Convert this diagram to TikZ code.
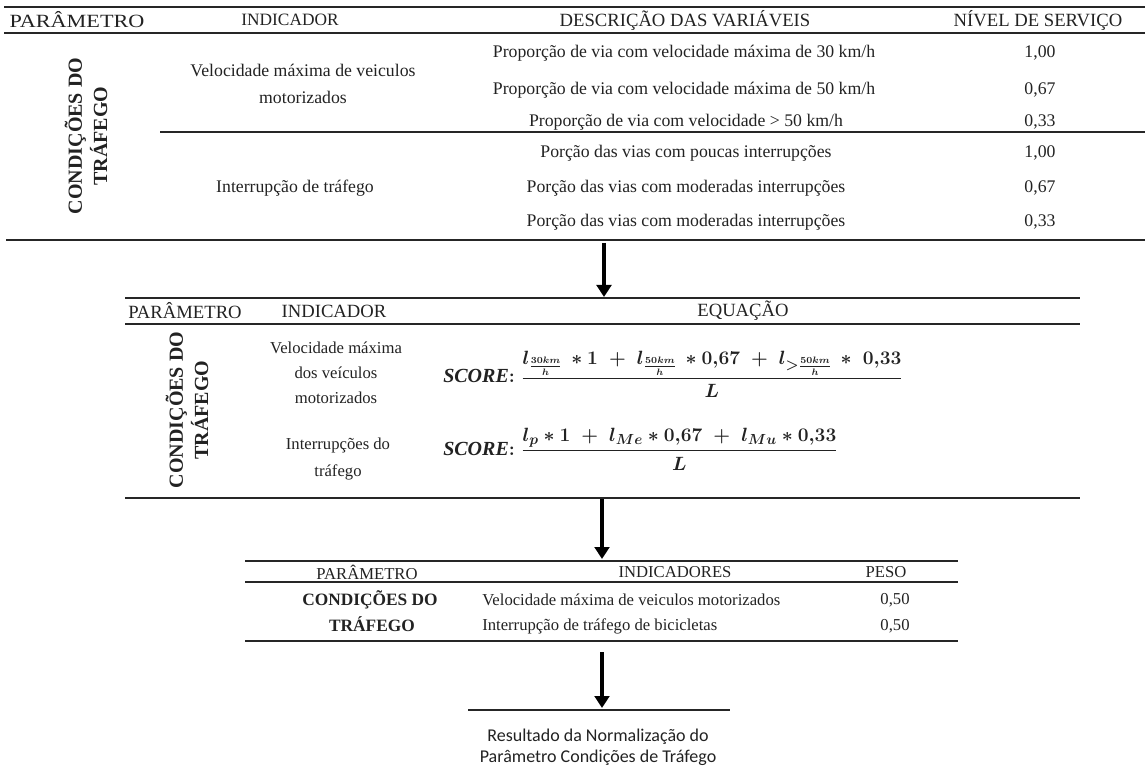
\documentclass[tikz,border=0pt]{standalone}
\usepackage{fontspec}
\usepackage{amsmath}
\setmainfont{Liberation Serif}
\newfontfamily\calfont{Carlito}
\usetikzlibrary{arrows.meta}
\definecolor{ink}{HTML}{222222}
\tikzset{
  thickrule/.style={line width=1.4pt, draw=black!85},
  thinrule/.style={line width=0.8pt, draw=black!85},
  tx/.style={inner sep=0pt, text=ink, font=\fontsize{13.3}{16}\selectfont},
  txb/.style={inner sep=0pt, text=ink, font=\fontsize{12.5}{15}\selectfont},
  hd/.style={inner sep=0pt, text=ink, font=\fontsize{14}{16}\selectfont},
  rot/.style={inner sep=0pt, rotate=90, align=center, text=ink, font=\bfseries\fontsize{15}{19}\selectfont},
  bd/.style={inner sep=0pt, text=ink, font=\bfseries\fontsize{13}{15}\selectfont},
  fm/.style={inner sep=0pt, anchor=west, text=ink, font=\boldmath\fontsize{15}{18}\selectfont},
  arr/.style={line width=3pt, draw=black, -{Triangle[width=11pt,length=9pt]}},
  cal/.style={inner sep=0pt, text=ink, font=\calfont\fontsize{13.5}{16}\selectfont},
}
\begin{document}
\begin{tikzpicture}[x=0.75pt,y=-0.75pt]
\useasboundingbox (0,0) rectangle (1145,773);
% ---------------- Table 1 ----------------
\coordinate (t1tl) at (4,7);   \coordinate (t1tr) at (1145,7);
\coordinate (t1hl) at (4,33);  \coordinate (t1hr) at (1145,33);
\coordinate (t1ml) at (160,132); \coordinate (t1mr) at (1145,132);
\coordinate (t1bl) at (6,240); \coordinate (t1br) at (1145,240);
\draw[thickrule] (t1tl) -- (t1tr);
\draw[thickrule] (t1hl) -- (t1hr);
\draw[thinrule] (t1ml) -- (t1mr);
\draw[thickrule] (t1bl) -- (t1br);
\node[hd] (h1a) at (77,20) {\scalebox{1.19}[1]{PARÂMETRO}};
\node[hd, font=\fontsize{13}{15}\selectfont] (h1b) at (290,20) {INDICADOR};
\node[hd] (h1c) at (685,20) {DESCRIÇÃO DAS VARIÁVEIS};
\node[hd] (h1d) at (1038,20) {NÍVEL DE SERVIÇO};
\node[rot] (r1) at (86,136) {CONDIÇÕES DO\\TRÁFEGO};
\node[tx] (i1a) at (303,70) {Velocidade máxima de veiculos};
\node[tx] (i1b) at (303,97) {motorizados};
\node[tx] (i1c) at (295,188) {Interrupção de tráfego};
\node[tx] (d1) at (684,53) {Proporção de via com velocidade máxima de 30 km/h};
\node[tx] (d2) at (684,90) {Proporção de via com velocidade máxima de 50 km/h};
\node[tx] (d3) at (686,122) {Proporção de via com velocidade > 50 km/h};
\node[tx] (d4) at (686,153) {Porção das vias com poucas interrupções};
\node[tx] (d5) at (686,188) {Porção das vias com moderadas interrupções};
\node[tx] (d6) at (686,222) {Porção das vias com moderadas interrupções};
\node[tx] (v1) at (1040,53) {1,00};
\node[tx] (v2) at (1040,90) {0,67};
\node[tx] (v3) at (1040,122) {0,33};
\node[tx] (v4) at (1040,153) {1,00};
\node[tx] (v5) at (1040,188) {0,67};
\node[tx] (v6) at (1040,222) {0,33};
% arrow 1
\coordinate (a1s) at (604,243);
\coordinate (a1e) at (604,297);
\draw[arr] (a1s) -- (a1e);
% ---------------- Table 2 ----------------
\coordinate (t2tl) at (125,298); \coordinate (t2tr) at (1080,298);
\coordinate (t2hl) at (125,324); \coordinate (t2hr) at (1080,324);
\coordinate (t2bl) at (125,498); \coordinate (t2br) at (1080,498);
\draw[thickrule] (t2tl) -- (t2tr);
\draw[thickrule] (t2hl) -- (t2hr);
\draw[thickrule] (t2bl) -- (t2br);
\node[hd] (h2a) at (185,311) {PARÂMETRO};
\node[hd] (h2b) at (334,311) {INDICADOR};
\node[hd] (h2c) at (743,311) {EQUAÇÃO};
\node[rot] (r2) at (187,410) {CONDIÇÕES DO\\TRÁFEGO};
\node[txb] (i2a) at (336,348) {Velocidade máxima};
\node[txb] (i2b) at (336,373) {dos veículos};
\node[txb] (i2c) at (336,398) {motorizados};
\node[txb] (i2d) at (338,445) {Interrupções do};
\node[txb] (i2e) at (338,472) {tráfego};
\node[fm] (f1) at (443,374) {$\mathit{SCORE}\mathbf{:}\;\dfrac{l_{\frac{30km}{h}}\, \ast 1 \;+\; l_{\frac{50km}{h}}\, \ast 0{,}67 \;+\; l_{>\frac{50km}{h}}\, \ast\; 0{,}33}{L}$};
\node[fm] (f2) at (443,449) {$\mathit{SCORE}\mathbf{:}\;\dfrac{l_{p} \ast 1 \;+\; l_{Me} \ast 0{,}67 \;+\; l_{Mu} \ast 0{,}33}{L}$};
% arrow 2
\coordinate (a2s) at (602,499);
\coordinate (a2e) at (602,559);
\draw[arr] (a2s) -- (a2e);
% ---------------- Table 3 ----------------
\coordinate (t3tl) at (245,561); \coordinate (t3tr) at (958,561);
\coordinate (t3hl) at (245,582); \coordinate (t3hr) at (958,582);
\coordinate (t3bl) at (245,641); \coordinate (t3br) at (958,641);
\draw[thickrule] (t3tl) -- (t3tr);
\draw[thinrule] (t3hl) -- (t3hr);
\draw[thinrule] (t3bl) -- (t3br);
\node[txb] (h3a) at (367,572) {PARÂMETRO};
\node[txb] (h3b) at (675,572) {INDICADORES};
\node[txb] (h3c) at (886,572) {PESO};
\node[bd] (b3a) at (370,600) {CONDIÇÕES DO};
\node[bd] (b3b) at (372,624) {TRÁFEGO};
\node[txb, anchor=west] (i3a) at (482,600) {Velocidade máxima de veiculos motorizados};
\node[txb, anchor=west] (i3b) at (482,626) {Interrupção de tráfego de bicicletas};
\node[txb] (w1) at (895,600) {0,50};
\node[txb] (w2) at (895,626) {0,50};
% arrow 3
\coordinate (a3s) at (602,652);
\coordinate (a3e) at (602,708);
\draw[arr] (a3s) -- (a3e);
\coordinate (rl) at (468,710); \coordinate (rr) at (730,710);
\draw[thinrule] (rl) -- (rr);
\node[cal] (res1) at (598,737) {Resultado da Normalização do};
\node[cal] (res2) at (598,758) {Parâmetro Condições de Tráfego};
\end{tikzpicture}
\end{document}
